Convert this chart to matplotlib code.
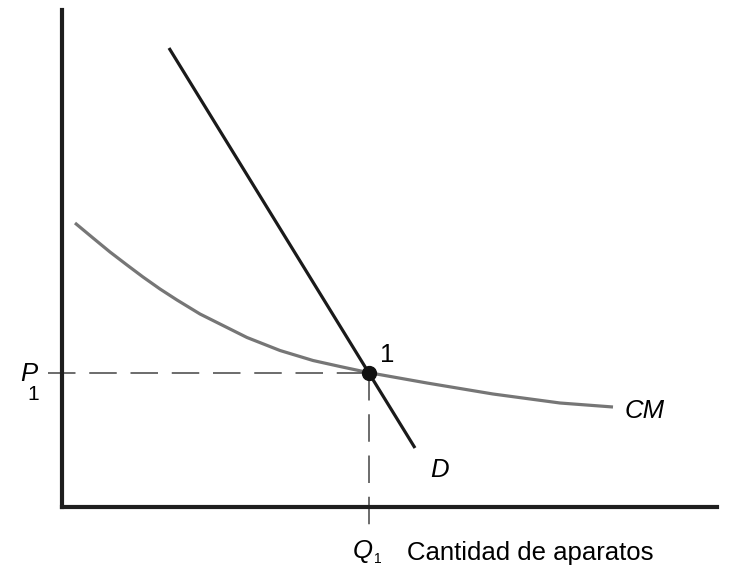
import matplotlib
matplotlib.use("Agg")
import matplotlib.pyplot as plt

plt.rcParams['font.family'] = ['Liberation Sans', 'DejaVu Sans']

# curva de costo medio (CM)
cm_q = [1.3, 3.1, 4.8, 6.5, 8.1, 9.8, 11.5, 13.8, 15.8, 18.5, 21.8, 25.1, 27.8,
        30.6, 36.5, 43.1, 49.8, 55.1]
cm_p = [28.4, 26.9, 25.5, 24.2, 23.0, 21.8, 20.7, 19.3, 18.3, 16.95, 15.65, 14.65, 14.05,
        13.45, 12.4, 11.3, 10.4, 10.0]

# demanda (D)
d_q = [10.7, 35.3]
d_p = [45.9, 5.9]

# punto 1
q1 = 30.7
p1 = 13.4

fig = plt.figure(figsize=(7.32, 5.67), dpi=100)
ax = fig.add_axes([62 / 732, 60 / 567, 655 / 732, 497 / 567])
ax.set_xlim(0, 65.5)
ax.set_ylim(0, 49.7)

for s in ['top', 'right']:
    ax.spines[s].set_visible(False)
for s in ['left', 'bottom']:
    ax.spines[s].set_linewidth(3.0)
    ax.spines[s].set_color('#1e1e1e')
ax.set_xticks([])
ax.set_yticks([])

ax.plot(cm_q, cm_p, color='#767676', lw=2.3, solid_capstyle='butt', solid_joinstyle='round')
ax.plot(d_q, d_p, color='#1a1a1a', lw=2.3, solid_capstyle='butt')

ax.plot([-1.4, q1], [p1, p1], color='#444444', lw=1.1, dashes=(18, 9), clip_on=False)
ax.plot([q1, q1], [p1, -2.0], color='#444444', lw=1.1, dashes=(18, 9), clip_on=False)
ax.plot([q1], [p1], 'o', color='#111111', ms=10, zorder=5)

fs = 18.5
ax.text(-2.5, 13.3, 'P', fontsize=fs, style='italic', ha='right', va='center')
ax.text(-2.85, 11.3, '1', fontsize=15, ha='center', va='center')
ax.text(32.5, 15.2, '1', fontsize=fs, ha='center', va='center')
ax.text(37.8, 3.7, 'D', fontsize=fs, style='italic', ha='center', va='center')
ax.text(56.3, 9.6, 'CM', fontsize=fs, style='italic', ha='left', va='center')
ax.text(29.1, -4.4, 'Q', fontsize=fs, style='italic', ha='left', va='center')
ax.text(31.6, -5.2, '1', fontsize=10, ha='center', va='center')
ax.text(34.5, -4.6, 'Cantidad de aparatos', fontsize=fs, ha='left', va='center')

fig.savefig('out.png', dpi=100)
